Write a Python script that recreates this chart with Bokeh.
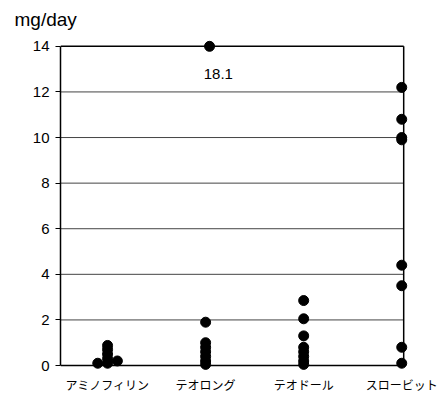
from bokeh.plotting import figure
from bokeh.models import Range1d, FixedTicker, Label, LinearAxis
from bokeh.embed import file_html
from bokeh.resources import INLINE

# ---- data ----
categories = ["アミノフィリン", "テオロング", "テオドール", "スロービット"]
cat_pos = [1, 2, 3, 4]

amino_vals = [0.1, 0.1, 0.3, 0.5, 0.7, 0.88, 0.2]
amino_jit = [-0.1, 0.0, 0.0, 0.0, 0.0, 0.0, 0.1]

teolong_vals = [1.9, 1.0, 0.8, 0.6, 0.4, 0.2, 0.05, 18.1]
teolong_jit = [0, 0, 0, 0, 0, 0, 0, 0.04]

teodor_vals = [2.85, 2.05, 1.3, 0.8, 0.6, 0.4, 0.2, 0.05]
teodor_jit = [0] * 8

slobid_vals = [12.2, 10.8, 10.0, 9.9, 4.4, 3.5, 0.8, 0.1]
slobid_jit = [0] * 8

y_ticks = [0, 2, 4, 6, 8, 10, 12, 14]
y_max = 14
outlier_text = "18.1"

# ---- figure ----
x0, x1 = 0.52, 4.02
p = figure(frame_width=353, frame_height=334, output_backend="svg", toolbar_location=None,
           x_range=Range1d(x0, 4.12), y_range=Range1d(-0.35, 14.3),
           min_border_left=60, min_border_right=27, min_border_top=39,
           min_border_bottom=30, x_axis_location=None, y_axis_location=None)
p.outline_line_color = None
p.grid.visible = False
p.background_fill_color = "white"
p.border_fill_color = "white"

p.title.text = "mg/day"
p.title.align = "left"
p.title.offset = -46
p.title.text_font = "Liberation Sans"
p.title.text_font_size = "19px"
p.title.text_font_style = "normal"
p.title.text_color = "black"
p.title.standoff = 16
p.title.vertical_align = "top"

# left axis
ya = LinearAxis(bounds=(0, y_max))
ya.ticker = FixedTicker(ticks=y_ticks)
ya.major_tick_out = 5
ya.major_tick_in = 0
ya.minor_tick_line_color = None
ya.axis_line_color = "black"
ya.axis_line_width = 1.5
ya.major_tick_line_width = 1.2
ya.major_label_text_font = "Liberation Sans"
ya.major_label_text_font_size = "15px"
ya.major_label_text_color = "black"
ya.major_label_standoff = 6
p.add_layout(ya, "left")

# bottom axis (labels only)
xa = LinearAxis()
xa.ticker = FixedTicker(ticks=cat_pos)
xa.major_label_overrides = {c: n for c, n in zip(cat_pos, categories)}
xa.axis_line_color = None
xa.major_tick_line_color = None
xa.minor_tick_line_color = None
xa.major_label_text_font = "Noto Sans CJK JP"
xa.major_label_text_font_size = "12px"
xa.major_label_text_color = "black"
xa.major_label_standoff = -4
p.add_layout(xa, "below")

# grid lines and frame
inner = [t for t in y_ticks if 0 < t < y_max]
p.segment(x0=[x0] * len(inner), x1=[x1] * len(inner), y0=inner, y1=inner,
          line_color="#444444", line_width=1)
p.segment(x0=[x0, x0], x1=[x1, x1], y0=[0, y_max], y1=[0, y_max],
          line_color="black", line_width=1.5)
p.segment(x0=[x1], x1=[x1], y0=[0], y1=[y_max], line_color="black", line_width=1.5)

# points
groups = [(amino_vals, amino_jit), (teolong_vals, teolong_jit),
          (teodor_vals, teodor_jit), (slobid_vals, slobid_jit)]
xs, ys = [], []
for pos, (vals, jit) in zip(cat_pos, groups):
    for v, j in zip(vals, jit):
        xs.append(pos + j)
        ys.append(min(v, y_max))
p.scatter(xs, ys, size=10, fill_color="black", line_color="black")

p.add_layout(Label(x=2.13, y=12.77, text=outlier_text, text_align="center",
                   text_baseline="middle", text_font="Liberation Sans",
                   text_font_size="15px", text_color="black"))

open("out.html", "w").write(file_html(p, INLINE))
